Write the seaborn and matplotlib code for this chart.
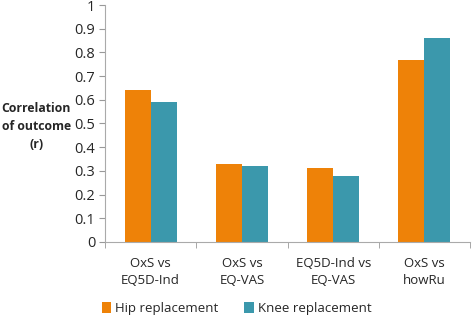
import seaborn as sns
import matplotlib.pyplot as plt
import pandas as pd
import numpy as np

comparisons = ['OxS vs\nEQ5D-Ind', 'OxS vs\nEQ-VAS', 'EQ5D-Ind vs\nEQ-VAS', 'OxS vs\nhowRu']
hip = [0.64, 0.33, 0.31, 0.77]
knee = [0.59, 0.32, 0.28, 0.86]
groups = ['Hip replacement', 'Knee replacement']
colors = ['#EE8208', '#3B98AC']

df = pd.DataFrame({'comparison': comparisons * 2,
                   'r': hip + knee,
                   'group': [groups[0]] * 4 + [groups[1]] * 4})

sns.set_style('white')
plt.rcParams['font.family'] = ['Open Sans', 'DejaVu Sans']

fig = plt.figure(figsize=(4.72, 3.15), dpi=100)
ax = fig.add_axes([0.2225, 0.232, 0.7735, 0.752])

sns.barplot(data=df, x='comparison', y='r', hue='group', palette=colors,
            width=0.57, saturation=1, linewidth=0, ax=ax)

ax.set_ylim(0, 1)
ax.set_yticks(np.arange(0, 1.01, 0.1))
ax.set_yticklabels(['0'] + ['%.1f' % v for v in np.arange(0.1, 0.95, 0.1)] + ['1'])
ax.set_xlim(-0.5, 3.5)
ax.set_xlabel('')
ax.set_ylabel('')
ax.tick_params(axis='x', which='major', length=0, labelsize=9.5, pad=11)
ax.tick_params(axis='y', length=4, labelsize=10.5, color='#999999', direction='out',
               left=True, pad=3)
ax.set_xticks(np.arange(-0.5, 3.6, 1), minor=True)
ax.tick_params(axis='x', which='minor', length=4, color='#999999', bottom=True)
for lab in ax.get_xticklabels():
    lab.set_linespacing(1.4)

for s in ['top', 'right']:
    ax.spines[s].set_visible(False)
for s in ['left', 'bottom']:
    ax.spines[s].set_color('#AAAAAA')
    ax.spines[s].set_linewidth(0.8)

fig.text(0.077, 0.6, 'Correlation\nof outcome\n(r)', ha='center', va='center',
         fontsize=8.8, fontweight='bold', linespacing=1.5)

ax.legend(loc='upper center', bbox_to_anchor=(0.36, -0.205), ncol=2, frameon=False,
          fontsize=9.5, handlelength=0.7, handleheight=0.9, handletextpad=0.3,
          columnspacing=2.0)

fig.savefig('out.png', dpi=100)
